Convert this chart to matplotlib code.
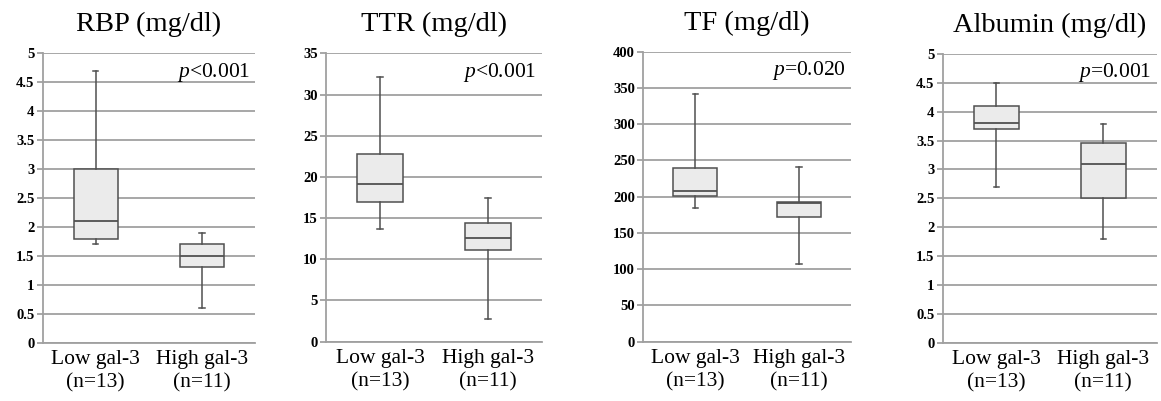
import matplotlib
matplotlib.use('Agg')
import matplotlib.pyplot as plt
from matplotlib.ticker import MultipleLocator

plt.rcParams['font.family'] = 'Liberation Serif'
plt.rcParams['mathtext.fontset'] = 'custom'
plt.rcParams['mathtext.it'] = 'Liberation Serif:italic'
plt.rcParams['mathtext.rm'] = 'Liberation Serif'

# panel data: (whisker low, Q1, median, Q3, whisker high)
titles = ['RBP (mg/dl)', 'TTR (mg/dl)', 'TF (mg/dl)', 'Albumin (mg/dl)']
p_texts = ['<0.001', '<0.001', '=0.020', '=0.001']
group_labels = ['Low gal-3\n(n=13)', 'High gal-3\n(n=11)']
y_max = [5, 35, 400, 5]
y_step = [0.5, 5, 50, 0.5]

rbp_low = [1.7, 1.8, 2.1, 3.0, 4.7]
rbp_high = [0.6, 1.3, 1.5, 1.7, 1.9]
ttr_low = [13.7, 17.0, 19.1, 22.8, 32.1]
ttr_high = [2.8, 11.1, 12.6, 14.4, 17.4]
tf_low = [185, 201, 208, 240, 341]
tf_high = [107, 172, 191, 193, 241]
alb_low = [2.7, 3.7, 3.8, 4.1, 4.5]
alb_high = [1.8, 2.5, 3.1, 3.45, 3.78]

panels = [(rbp_low, rbp_high), (ttr_low, ttr_high), (tf_low, tf_high), (alb_low, alb_high)]

rects = [
    [0.0368, 0.1454, 0.1829, 0.7216],
    [0.2808, 0.1480, 0.1860, 0.7190],
    [0.5541, 0.1480, 0.1789, 0.7230],
    [0.8120, 0.1454, 0.1843, 0.7200],
]

grid_col = '#a0a0a0'
edge_col = '#505050'

fig = plt.figure(figsize=(11.61, 4.01), dpi=100)

for i in range(4):
    ax = fig.add_axes(rects[i])
    stats = []
    for vals in panels[i]:
        stats.append({'whislo': vals[0], 'q1': vals[1], 'med': vals[2],
                      'q3': vals[3], 'whishi': vals[4], 'fliers': []})
    ax.bxp(stats, positions=[1, 2], widths=0.42, patch_artist=True,
           showfliers=False, capwidths=0.05,
           boxprops=dict(facecolor='#ebebeb', edgecolor=edge_col, linewidth=1.1),
           medianprops=dict(color=edge_col, linewidth=1.3),
           whiskerprops=dict(color=edge_col, linewidth=1.1),
           capprops=dict(color=edge_col, linewidth=1.1))
    ax.set_xlim(0.5, 2.5)
    ax.set_ylim(0, y_max[i])
    ax.yaxis.set_major_locator(MultipleLocator(y_step[i]))
    ax.set_yticklabels([('%g' % v) for v in ax.get_yticks()])
    ax.grid(axis='y', color=grid_col, linewidth=1.3)
    ax.set_axisbelow(True)
    for s in ['top', 'right']:
        ax.spines[s].set_visible(False)
    ax.spines['left'].set_color(grid_col)
    ax.spines['bottom'].set_color(grid_col)
    ax.spines['left'].set_linewidth(1.3)
    ax.spines['bottom'].set_linewidth(1.3)
    ax.tick_params(axis='y', length=4, width=1.3, color=grid_col, labelsize=10.5, pad=2)
    ax.tick_params(axis='x', length=0, labelsize=15.5, pad=5)
    for lab in ax.get_yticklabels():
        lab.set_fontweight('bold')
    ax.set_xticks([1, 2])
    ax.set_xticklabels(group_labels, linespacing=1.35)
    ax.set_title(titles[i], fontsize=20.5, pad=16)
    ax.text(0.975, 0.935, r'$\mathit{p}$' + p_texts[i], transform=ax.transAxes,
            ha='right', va='center', fontsize=15.5)

fig.savefig('out.png', dpi=100)
